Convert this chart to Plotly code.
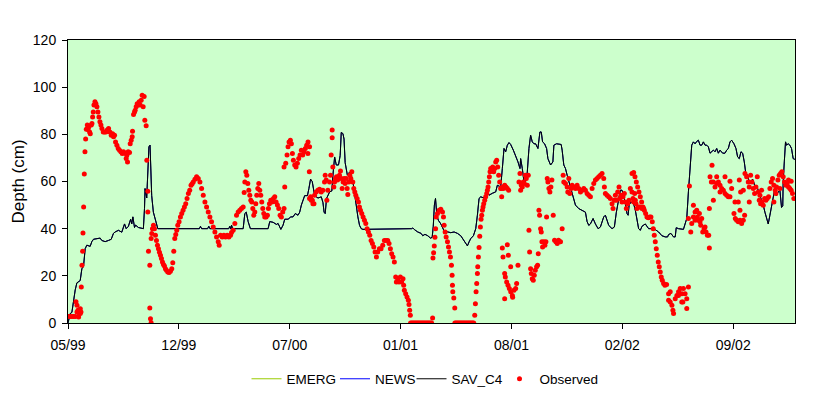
import pandas as pd
import plotly.graph_objects as go

# ---------------- data (days since 1999-05-31, depth in cm) ----------------
START = pd.Timestamp("1999-05-31")
END = pd.Timestamp("2003-01-01 14:00")

tick_days = [0, 200, 400, 600, 800, 1000, 1200]
tick_labels = ["05/99", "12/99", "07/00", "01/01", "08/01", "02/02", "09/02"]

y_ticks = [0, 20, 40, 60, 80, 100, 120]

# simulated depth (SAV_C4)
sav_c4 = [
    (0, 0), (4, 4), (7, 4.5), (10, 10), (13, 14), (16, 17), (22, 18), (25, 23), (28, 24), (31, 31.5),
    (34, 33), (40, 32.5), (43, 34.5), (46, 35.5), (52, 35.8), (58, 36), (61, 35), (67, 34.5), (73, 35),
    (78, 35.5), (82, 38), (85, 38.6), (91, 39.3), (97, 38.5), (102, 42), (105, 40), (109, 41), (113, 44),
    (115, 42), (117, 45), (120, 40.5), (122, 41.5), (127, 40.5), (133, 40), (136, 40), (138, 48.5),
    (139, 57), (142, 53), (144, 65.5), (146, 74.7), (148, 75.4), (150, 65), (151, 54), (154, 47),
    (157, 44), (160, 40.7), (162, 40), (200, 40), (237, 40), (239, 41), (241, 40), (252, 40), (254, 41),
    (256, 40), (290, 40), (292, 41), (294, 39.8), (295, 41.5), (297, 40), (316, 40), (319, 46.4),
    (321.6, 47), (325, 43), (329, 40), (361, 40), (364, 43), (370, 42.7), (376, 41.8), (379, 42.2),
    (384, 39.7), (388, 41.5), (391, 44), (397, 44), (402, 45), (406, 45), (410, 46.4), (415, 45.7),
    (418, 47), (421, 50), (427, 54), (432, 54), (434.6, 57), (437.6, 61), (440.6, 60), (443.6, 55),
    (445, 54), (451, 53), (457, 53.5), (460, 51), (462, 47), (464, 46.4), (466.4, 52.8), (472, 55.6),
    (476, 56), (478, 62.7), (481, 70.4), (484, 67), (488, 67), (491, 71), (493, 80.8), (496, 80.3),
    (498, 78), (500, 68), (504, 62.7), (508, 64), (511, 62.7), (514, 60), (517, 54), (520, 50),
    (523, 45), (526, 41.4), (529, 40), (532, 39.7), (620, 40), (622, 40.3), (625, 39.6), (631, 38.6),
    (637, 38), (640, 37), (644, 37.6), (649, 37), (654, 36), (657, 36.3), (659, 41), (661, 50),
    (663, 52.8), (665.4, 45.7), (668, 43.6), (672.6, 42), (678.6, 39), (684.6, 38.6), (690.6, 38.3),
    (696.6, 38.6), (702.6, 38), (708.6, 37), (714.6, 35), (720.6, 32.7), (723.6, 34.4), (726.6, 35.8),
    (731.4, 37), (735.6, 40), (738.6, 45.7), (741.6, 52.8), (744.6, 53.5), (750.6, 53), (755.4, 55.6),
    (759.6, 54.2), (765.6, 55), (771.6, 55.6), (774.6, 58.4), (780.6, 57.7), (783.6, 65.5), (786.6, 74),
    (789.6, 72.6), (792.6, 75.4), (795.6, 76.5), (798.6, 75.7), (803.4, 73.3), (807.6, 71),
    (811.8, 68.3), (815.4, 65.5), (816.6, 69.7), (819.6, 65.5), (822.6, 60), (825.6, 60), (828.6, 64),
    (831.6, 74), (834.6, 79.6), (837.6, 76.8), (840.6, 76), (843.6, 76), (847.8, 74), (851.4, 81),
    (853.8, 81), (856.2, 76.8), (859.8, 76), (863.4, 74), (865.8, 69.7), (870.6, 67), (874.8, 68.3),
    (876.6, 75.4), (881.4, 76), (889.7, 75.7), (891.5, 73.3), (894.5, 67), (897.5, 65.5), (900.5, 62.7),
    (905.3, 58.4), (909.5, 55.6), (912.5, 52), (915.5, 50), (921.5, 48.5), (927.5, 47.8), (933.5, 47),
    (936.5, 43), (939.5, 41.4), (942.5, 42), (947.3, 44.3), (951.5, 42), (956.3, 40), (960.5, 40.7),
    (966.5, 45), (969.5, 45.7), (975.5, 41.4), (981.5, 40), (985.7, 40.7), (989.3, 47), (993.5, 52),
    (996.5, 56.3), (999.5, 56.3), (1002.5, 54), (1005.5, 50.6), (1008.5, 46.4), (1010.5, 45.7),
    (1012.3, 50), (1015.7, 51.3), (1020.5, 50.6), (1023.5, 47.8), (1026.5, 43), (1029.5, 40),
    (1032.5, 39.3), (1035.5, 41), (1041.5, 42), (1044.5, 40.7), (1047.5, 40), (1053.5, 40),
    (1059.5, 39.6), (1065.5, 38.6), (1071.5, 37), (1077.5, 36.5), (1081.7, 36.5), (1083.5, 37.5),
    (1087.7, 38), (1092.5, 36.5), (1095.5, 36.5), (1097.3, 40.4), (1101.5, 40), (1110.3, 39.7),
    (1113.3, 42), (1116.3, 44.3), (1119.3, 55.6), (1122.3, 68.3), (1125.3, 75.4), (1128.3, 76.8),
    (1131.3, 76), (1134.3, 77), (1137.3, 77.5), (1140.3, 75.4), (1143.3, 75.4), (1146.3, 76.8),
    (1149.3, 75.4), (1152.3, 75.4), (1155.3, 74.7), (1158.3, 72), (1161.3, 72.6), (1164.3, 73.3),
    (1167.3, 72.6), (1170.3, 74), (1173.3, 72), (1176.3, 73.3), (1181.1, 72), (1185.3, 72),
    (1188.3, 73.3), (1191.3, 74), (1194.3, 76.8), (1197.3, 77.5), (1201.5, 76), (1205.1, 74),
    (1208.1, 70.4), (1211.1, 69.7), (1214.1, 72.6), (1217.1, 72), (1220.1, 68.3), (1222.5, 64),
    (1225.5, 62.7), (1229.1, 60), (1231.5, 59.4), (1235.1, 61), (1237.5, 59.4), (1240, 57),
    (1242.3, 58.4), (1245.3, 55.6), (1248.3, 54), (1251.3, 52), (1254.3, 50), (1257.3, 47),
    (1260.3, 44.3), (1263.3, 42), (1266.3, 45.7), (1269.3, 50), (1272.3, 54), (1275.3, 57),
    (1278.3, 54), (1281.3, 55.6), (1284.3, 56.3), (1287.3, 49), (1289.5, 49.7), (1290.3, 60),
    (1292.3, 68.3), (1294.5, 76.8), (1296.3, 75.4), (1299.3, 76), (1302.3, 75.4), (1305.3, 74),
    (1308.3, 69.7), (1311.3, 69.4),
]
# EMERG and NEWS coincide with SAV_C4 here (hidden beneath it)
emerg = list(sav_c4)
news = list(sav_c4)

# observed depth
obs_1999 = [
    (1.2, 2.8), (4.2, 2.8), (7.2, 2.8), (10.2, 2.8), (13.2, 2.8), (14.4, 9), (16.2, 7.5), (16.2, 4.7),
    (18, 5.4), (19.2, 2.5), (20.4, 4), (22.2, 4), (22.2, 6), (23.4, 4.7), (24, 15.3), (25.2, 24.5),
    (26.4, 30.4), (27, 38.2), (28.2, 49.2), (29.4, 63.2), (30.6, 72.6), (31.8, 78), (33, 82.2),
    (34.8, 84), (36, 82), (37.2, 83), (39, 81), (40.2, 80.3), (42, 84), (43.2, 84.6), (44.4, 87.4),
    (45.6, 89.5), (46.8, 92.4), (48.6, 93.8), (50.4, 93), (52.2, 91.7), (54, 89.5), (55.8, 87.4),
    (57.6, 85.3), (59.4, 84), (61.2, 82.5), (63.6, 81), (66, 81), (68.4, 81), (70.8, 81.8),
    (73.2, 82.5), (75.6, 81), (78, 79.6), (80.4, 80.3), (82.2, 79), (84, 79.6), (85.8, 76.8),
    (88.2, 75.4), (90.6, 74), (93, 73.3), (95.4, 72.6), (97.8, 71.9), (100.2, 72.6), (102.6, 72),
    (105, 69.7), (106.2, 71.1), (107.4, 68.3), (108.6, 72.6), (111, 72.3), (112.2, 76), (114, 77.5),
    (115.8, 79), (116.4, 81.3), (118.2, 88.4), (120, 89.5), (121.2, 90.2), (123, 91.7), (124.8, 93),
    (126.6, 92.4), (128.4, 93.8), (130.2, 92.4), (132, 94.5), (133.8, 96.6), (135.6, 91.7),
    (137.4, 96), (138.6, 86), (141, 83.6), (142.2, 69), (144, 55.9), (144, 47.1), (145.2, 30.4),
    (147.6, 24.5), (147.6, 6.4), (148.8, 1.8), (150, 0.1),
]
obs_2000 = [
    (150, 35.8), (151.2, 37.9), (152.4, 40), (154.2, 41.4), (156, 40), (157.8, 37.2), (159.6, 35),
    (161.4, 33), (163.2, 31.5), (165, 30), (166.8, 28.7), (168.6, 27.3), (170.4, 25.9), (172.2, 24.8),
    (174, 24.2), (175.8, 23), (177.6, 22.4), (180, 21.6), (182.4, 21.4), (184.8, 21.9), (187.2, 23),
    (189, 25.5), (190.8, 30.4), (192.6, 35.8), (194.4, 37.5), (196.2, 39.3), (198, 41.4),
    (200.4, 42.9), (202.8, 45), (205.2, 46.4), (207.6, 47.8), (210, 49.2), (212.4, 50.6),
    (214.8, 52.8), (217.2, 54.9), (219.6, 56.3), (222, 58.4), (224, 59), (226, 59.8), (229, 61),
    (232, 62), (235, 61.3), (238, 59.8), (241, 57), (244, 54.2), (247, 51.3), (250, 49.2), (253, 47.1),
    (256, 45), (259, 42.9), (262, 40.7), (265, 38.6), (268, 36.5), (271, 34.4), (272.8, 33),
    (275.2, 37.2), (278.2, 36.5), (281.2, 37.2), (284.2, 36.5), (287.2, 37.2), (290.2, 36.5),
    (293.2, 37.2), (295, 38.4), (298, 39.3), (301, 42.2), (304, 45.7), (307, 47.1), (310, 47.8),
    (313, 48.5), (316, 49.2), (317.8, 55.3), (319, 59.8), (320.8, 64.1), (322.6, 62.7), (324.4, 59.1),
    (326.2, 56.3), (328, 54.2), (329.8, 52), (331.6, 51.3), (333.4, 48.5), (335.2, 45.7), (337, 47.1),
    (338.8, 50.6), (340.6, 54.2), (342.4, 57), (344.2, 59.1), (346, 56.3), (347.8, 54.2),
    (349.6, 51.3), (351.4, 48.5), (353.2, 46.4), (355, 45), (357.4, 45), (359.8, 45.7), (361.6, 48.5),
    (363.4, 50.6), (365.8, 52), (368.2, 51.3), (370.6, 52.8), (373, 53.5), (375.4, 51.3),
    (377.8, 50), (380.2, 48.5), (382.6, 45.7), (385, 45), (387.4, 47.1), (389.8, 48.5), (391, 57.7),
    (389.8, 66.2), (392.8, 67.7), (395.2, 71.2), (397, 74.7), (398.8, 76.8), (401.2, 77.5), (403, 76),
    (404.8, 71.9), (406.6, 69), (409, 67), (411.4, 66.2), (413.8, 67.7), (416.2, 69.8), (418.6, 71.2),
    (421, 73.3), (423.4, 71.2), (425.8, 72.6), (428.2, 74), (430.6, 75.4), (433, 76.8), (435.4, 64.1),
    (437.8, 53.5), (440.8, 52), (443.8, 50.6),
]
obs_2000b = [
    (435.8, 74.7), (432.8, 71.9), (435.8, 52.8), (438.8, 52), (441.8, 50.6), (444.8, 54.2),
    (447.8, 55.6), (450.8, 56.3), (453.8, 56.7), (456.8, 55.6), (459.8, 56.3), (462.8, 59.8),
    (464, 62.7), (465.8, 60.6), (467, 52), (468.8, 56.3), (471.8, 59.8), (473.6, 62.7), (474.8, 71.2),
    (476.6, 81.8), (476.6, 78.5), (477.8, 66.2), (479.6, 57.7), (480.8, 59.8), (482.6, 61.3),
    (484.4, 62), (486.2, 60.6), (488, 61.3), (489.8, 62.7), (491.6, 64.4), (492.8, 61.3), (494.6, 57),
    (496.4, 59.8), (498.2, 61.3), (500, 59.1), (501.8, 61.3), (503.6, 57), (504.8, 54.5),
    (506.6, 59.8), (508.4, 62.7), (510.2, 61.3), (512, 64.1), (513.8, 59.8), (515.6, 57),
    (517.4, 55.6), (519.2, 54.2), (521.6, 52.8), (524, 51.3), (525.8, 49.2), (527.6, 47.8),
    (530, 46.4), (532.4, 45), (534.8, 43.6), (537.2, 42.2), (539.6, 40), (542, 38.6), (544.4, 37.2),
    (546.8, 35), (549.2, 33.7), (551.6, 32.2), (554, 30.1), (556.4, 28), (558.8, 30.1), (561.8, 31.5),
    (564.8, 31.5), (567.8, 33), (570.8, 35), (573.8, 35), (576.8, 35), (579.2, 33.7), (581.6, 31.5),
    (584, 29.4), (586.4, 28), (588.8, 25.9), (591.2, 19.5), (592.4, 17.4), (594.8, 18.8),
    (597.2, 17.4), (599.6, 19.5), (602, 17.4), (604.4, 18.8), (605.6, 16), (606.8, 13.9),
    (609.2, 12.4), (611.6, 11), (614, 9.6), (615.2, 7.8), (616.4, 5.4), (617.6, 3.3),
]
obs_dry_1 = [
    (618, 0), (620, 0), (622, 0), (624, 0), (626, 0), (628, 0), (630, 0), (632, 0), (634, 0), (636, 0),
    (638, 0), (640, 0), (642, 0), (644, 0), (646, 0), (648, 0), (650, 0), (652, 0), (654, 0), (656, 0),
]
obs_2001 = [
    (657.8, 2.1), (658.4, 27.6), (659.6, 29.8), (660.8, 32.7), (662, 36.4), (663.2, 40), (664.4, 45),
    (666.6, 46.4), (669.6, 47.8), (672.6, 48.2), (675.6, 47.1), (677.4, 45), (678.6, 41.4),
    (680.4, 38.6), (682.2, 36.5), (684.6, 34.4), (686.4, 32.2), (688.2, 30.1), (690, 28),
    (691.8, 24.5), (693, 20.2), (693.6, 16), (694.2, 13.2), (696, 10.6), (697.8, 6.4),
]
obs_dry_2 = [
    (698, 0), (700, 0), (702, 0), (704, 0), (706, 0), (708, 0), (710, 0), (712, 0), (714, 0), (716, 0),
    (718, 0), (720, 0), (722, 0), (724, 0), (726, 0), (728, 0), (730, 0), (732, 0),
]
obs_2001b = [
    (733.8, 3.3), (735, 8.2), (736.2, 13.2), (737.4, 16.7), (738.6, 21), (739.2, 23.8), (740.4, 28),
    (741.6, 32), (742.8, 36.8), (744, 40.7), (745.2, 44), (746.4, 45.7), (747.6, 47.8), (748.8, 49.2),
    (750, 50.6), (751.8, 52), (753.6, 53.5), (755.4, 54.9), (756.6, 56.3), (757.8, 57.7), (759, 59.8),
    (760.2, 62), (761.4, 64.1), (762.6, 65.5), (764.4, 65), (766.2, 66.2), (768, 64.1), (769.8, 65.5),
    (771.6, 68.3), (773.4, 69), (775.2, 66.2), (777, 62.7), (778.8, 59.8), (780.6, 57), (782.4, 53.5),
    (781.8, 57), (783.6, 57.7), (785.4, 57), (787.8, 58.4), (790.2, 57.7), (792.6, 57), (795, 56.3),
    (783.6, 31.8), (784.8, 28), (792.6, 33.2), (794.4, 28.7), (787.8, 21), (789, 19.5), (791.4, 17.4),
    (793.8, 16), (796.2, 14.6), (798.6, 13.2), (801.6, 11.7), (804.6, 13.9), (807.6, 14.6),
    (809.4, 16.7), (798.6, 23.8), (787.8, 10.3), (811.8, 24.5), (802.2, 10.9),
    (813.6, 59.8), (815.4, 63.4), (816.6, 56.3), (817.8, 58.4), (819.6, 57.7), (821.4, 59.8),
    (823.2, 59.1), (825, 62.7), (826.8, 61.3), (828.6, 58.4), (830.4, 62.7), (831.6, 39.3),
    (832.8, 30.1), (834.6, 23), (835.8, 21), (837.6, 18.8), (839.4, 18.1), (841.2, 20.2), (843, 22.4),
    (845.4, 23.8), (847.2, 24.5), (849.6, 47.8), (850.8, 45.7), (848.4, 29.4), (852.6, 40),
    (853.8, 38.6), (855, 34.4), (856.2, 32.2), (858.6, 34.4), (860.4, 33), (862.2, 34.4), (863.4, 45),
    (864.6, 61.3), (865.8, 59.8), (867.6, 57), (869.4, 55.6), (871.2, 57.7), (873, 60.6),
    (875.4, 45.7), (877.8, 35.1), (880.2, 34.4), (882.6, 33.7), (885, 35.1), (887.4, 34.4),
    (888.5, 34.4), (891.5, 40),
]
obs_2002 = [
    (893.3, 62.7), (894.5, 59.8), (897.5, 59.1), (900.5, 57.7), (903.5, 61.3), (901.7, 55.6),
    (905.3, 54.9), (907.7, 57), (909.5, 58.4), (912.5, 57.7), (915.5, 57), (918.5, 58.4), (921.5, 57),
    (924.5, 55.6), (927.5, 56.3), (930.5, 57), (933.5, 56.3), (936.5, 54.9), (939.5, 54.2),
    (942.5, 53.5), (945.5, 57), (948.5, 59.1), (951.5, 60.6), (954.5, 61.3), (957.5, 62),
    (960.5, 62.7), (963.5, 63.4), (966.5, 61.3), (967.7, 57.7), (969.5, 54.9), (972.5, 54.2),
    (975.5, 53.5), (978.5, 52.8), (981.5, 50.6), (983.3, 48.5), (985.7, 52), (987.5, 54.2),
    (989.3, 52), (991.7, 55.6), (994.1, 57.7), (995.3, 52.8), (997.7, 54.2), (999.5, 51.3),
    (1001.3, 53.5), (1003.7, 54.9), (1005.5, 51.3), (1007.3, 48.5), (1009.7, 50.6), (1012.1, 52),
    (1014.5, 57), (1017.5, 55.6), (1019.3, 52.8), (1020.5, 51.3), (1022.3, 54.9), (1023.5, 52),
    (1024.7, 50.6), (1026.5, 48.5), (1029.5, 49.2), (1032.5, 49.2), (1035.5, 48.5), (1038.5, 48.5),
    (1017.5, 63.4), (1020.5, 63.8), (1022.9, 62), (1025.3, 59.8), (1027.7, 57.7), (1030.1, 55.6),
    (1032.5, 53.5), (1034.9, 51.3), (1037.3, 49.2), (1039.7, 47.8), (1042.1, 46.4), (1044.5, 45),
    (1046.9, 44.6), (1049.3, 45), (1051.7, 45), (1054.1, 42.9), (1055.9, 40), (1057.7, 37.2),
    (1059.5, 34.4), (1061.3, 31.5), (1063.1, 28.7), (1064.9, 25.9), (1066.7, 23.8), (1068.5, 21.6),
    (1070.3, 19.5), (1072.1, 18.1), (1074.5, 16.7), (1076.9, 16), (1079.9, 16.3),
    (1083.5, 12.4), (1086.5, 13.2), (1083.5, 9.6), (1086.5, 8.9), (1089.5, 7.5), (1091.3, 5.4),
    (1092.5, 4), (1095.5, 10.3), (1098.5, 11.7), (1101.5, 13.2), (1104.5, 14.6), (1107.5, 12.4),
    (1109.3, 8.9), (1101.3, 11.7), (1110.3, 14.6), (1113.3, 12.4), (1116.3, 10.3), (1119.3, 15.3),
    (1107.3, 8.9), (1116.3, 6.1),
]
obs_2002b = [
    (1121.1, 58.1), (1119.3, 44.3), (1123.5, 38.6), (1125.3, 42.2), (1128.3, 49.9), (1128.3, 45),
    (1131.3, 47.1), (1131.3, 43.6), (1134.3, 47.8), (1135.5, 45), (1137.3, 43.6), (1139.1, 46.4),
    (1140.3, 42.9), (1141.5, 41.4), (1143.3, 44.3), (1145.1, 38.6), (1147.5, 40), (1149.3, 40.7),
    (1151.1, 38.6), (1153.5, 37.2), (1155.9, 37.2), (1157.1, 48.5), (1157.1, 31.8),
    (1161.9, 66.9), (1158.3, 62), (1160.7, 59.8), (1164.3, 59.8), (1167.3, 57.7), (1170.3, 59.1),
    (1173.3, 59.8), (1176.3, 58.4), (1179.3, 57), (1182.3, 56.3), (1185.3, 54.9), (1188.3, 54.2),
    (1191.3, 53.5), (1194.3, 53.5), (1185.3, 62), (1194.3, 60.1), (1197.3, 57), (1164.3, 52),
    (1170.3, 62), (1176.3, 55.6),
    (1201.5, 46.4), (1203.9, 44.3), (1206.3, 43.6), (1209.3, 42.9), (1212.3, 43.6), (1215.3, 42.2),
    (1218.3, 43.6), (1220.7, 45.7), (1212.3, 47.8), (1209.3, 51.3), (1203.3, 51.3), (1211.1, 60.6),
    (1213.5, 55.6), (1218.3, 56.3),
    (1221.3, 63.4), (1224.3, 62), (1227.3, 59.8), (1229.1, 57.7), (1231.5, 62.7), (1233.9, 59.8),
    (1236.3, 57), (1238.7, 54.9), (1241.1, 57.7), (1243.5, 62), (1245.3, 55.6), (1247.1, 52),
    (1249.5, 50.6), (1251.9, 51.3), (1254.3, 49.9), (1256.7, 52.8), (1259.1, 52), (1261.5, 52.8),
    (1263.9, 53.5), (1251.3, 56.3), (1248.3, 54.2), (1229.1, 51.3), (1266.3, 57), (1268.7, 59.8),
    (1271.1, 61.3), (1273.5, 58.4), (1275.9, 56.3), (1278.3, 57.7), (1280.7, 60.6), (1283.1, 62.7),
    (1285.5, 63.4), (1287.9, 64.1), (1290.3, 62), (1292.7, 59.8), (1295.1, 58.4), (1297.5, 59.1),
    (1299.9, 57.7), (1302.3, 57), (1304.7, 56.3), (1307.1, 54.9), (1309.5, 52.8), (1299.9, 60.6),
    (1304.7, 60.1), (1273.5, 51.3), (1277.1, 54.9), (1284.3, 57),
]

# ---------------- build figure ----------------
def to_date(d):
    return START + pd.Timedelta(days=d)

def split(points):
    return [to_date(p[0]) for p in points], [p[1] for p in points]

observed = (obs_1999 + obs_2000 + obs_2000b + obs_dry_1 + obs_2001 + obs_dry_2
            + obs_2001b + obs_2002 + obs_2002b)

W, H = 831, 398
FONT = "Liberation Sans, Arial, sans-serif"
fig = go.Figure()
series = [("EMERG", emerg, "#99CC00", "legend"), ("NEWS", news, "#0000FF", "legend2"),
          ("SAV_C4", sav_c4, "#000000", "legend3")]
for name, pts, color, lg in series:
    x, y = split(pts)
    fig.add_trace(go.Scatter(x=x, y=y, mode="lines", name=name, legend=lg,
                             line=dict(color=color, width=1)))
ox, oy = split(observed)
fig.add_trace(go.Scatter(x=ox, y=oy, mode="markers", name="Observed", legend="legend4",
                         marker=dict(color="#FF0000", size=5, line=dict(width=0))))

legend_left_px = [246.5, 335, 411.5, 499.5]
legend_y = 1 - 379 / H

def legend_at(px):
    return dict(orientation="h", xref="container", yref="container",
                x=px / W, xanchor="left", y=legend_y, yanchor="middle",
                font=dict(size=13.5), itemwidth=30, bgcolor="rgba(0,0,0,0)")

fig.update_layout(
    width=W, height=H,
    margin=dict(l=68, r=36, t=40, b=75),
    paper_bgcolor="white", plot_bgcolor="#CCFFCC",
    font=dict(family=FONT, size=14, color="black"),
    showlegend=True,
    legend=legend_at(legend_left_px[0]),
    legend2=legend_at(legend_left_px[1]),
    legend3=legend_at(legend_left_px[2]),
    legend4=legend_at(legend_left_px[3]),
    xaxis=dict(type="date", range=[START, END], automargin=False,
               tickvals=[to_date(d) for d in tick_days], ticktext=tick_labels,
               ticks="outside", ticklen=5, tickcolor="black", ticklabelstandoff=4,
               showgrid=False, zeroline=False,
               showline=True, linecolor="black", linewidth=1, mirror=True),
    yaxis=dict(range=[0, 120], tickvals=y_ticks, ticks="outside", ticklen=5, tickcolor="black",
               ticklabelstandoff=3, automargin=False, showgrid=False, zeroline=False,
               showline=True, linecolor="black", linewidth=1, mirror=True,
               title=dict(text="Depth (cm)", standoff=3)),
)

fig.write_html("out.html", config={"displayModeBar": False},
               post_script="document.body.style.margin='0';")
